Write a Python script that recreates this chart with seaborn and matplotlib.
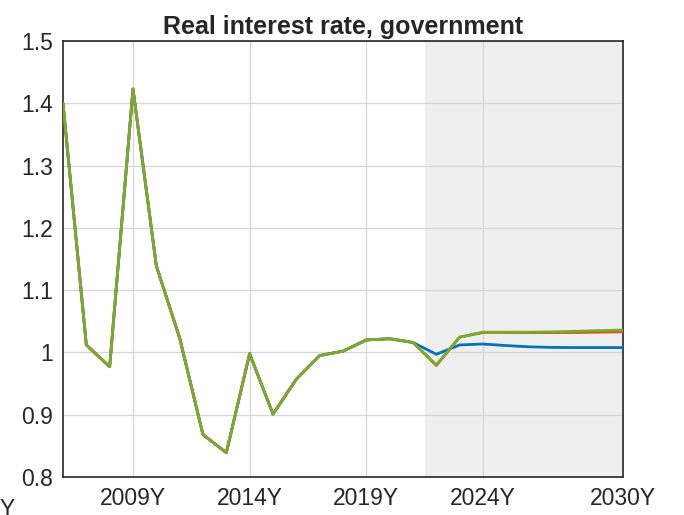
import numpy as np
import pandas as pd
import matplotlib
matplotlib.use("Agg")
import matplotlib.pyplot as plt
import seaborn as sns

years = list(range(2006, 2031))
common = [1.400, 1.012, 0.977, 1.423, 1.139, 1.023, 0.868, 0.839, 0.998,
          0.901, 0.957, 0.995, 1.002, 1.020, 1.022, 1.016]
blue_tail = [0.997, 1.012, 1.0135, 1.011, 1.009, 1.008, 1.0078, 1.0078, 1.0078]
orange_tail = [0.979, 1.0245, 1.032, 1.032, 1.0318, 1.0318, 1.032, 1.0325, 1.033]
green_tail = [0.980, 1.0245, 1.0325, 1.0325, 1.0325, 1.033, 1.034, 1.035, 1.036]

series = {
    "baseline": common + blue_tail,
    "scenario 1": common + orange_tail,
    "scenario 2": common + green_tail,
}
colors = ["#0072BD", "#D95319", "#77AC30"]

df = pd.DataFrame([(y, name, v) for name, vals in series.items()
                   for y, v in zip(years, vals)],
                  columns=["year", "series", "value"])

sns.set_style("white")
plt.rcParams["font.family"] = ["Liberation Sans", "DejaVu Sans"]

fig = plt.figure(figsize=(6.84, 5.15), dpi=100)
ax = fig.add_axes([0.0921, 0.0738, 0.8187, 0.8466])

ax.axvspan(2021.5, 2030, color="#efefef", zorder=0, lw=0)

sns.lineplot(data=df, x="year", y="value", hue="series", palette=colors,
             linewidth=2, legend=False, ax=ax, zorder=3)

ax.set_xlim(2006, 2030)
ax.set_ylim(0.8, 1.5)
ax.set_xticks([2009, 2014, 2019, 2024, 2030])
ax.set_xticklabels(["2009Y", "2014Y", "2019Y", "2024Y", "2030Y"])
yt = [0.8, 0.9, 1.0, 1.1, 1.2, 1.3, 1.4, 1.5]
ax.set_yticks(yt)
ax.set_yticklabels([f"{v:g}" for v in yt])
ax.set_xlabel("")
ax.set_ylabel("")
ax.grid(True, color="#d6d6d6", linewidth=0.9, zorder=1)
ax.set_axisbelow(True)
ax.tick_params(direction="in", length=5, width=1.2, labelsize=16.5,
               colors="#262626", pad=7, top=False, right=False)
for s in ax.spines.values():
    s.set_visible(True)
    s.set_color("#262626")
    s.set_linewidth(1.2)

ax.set_title("Real interest rate, government", fontsize=18,
             fontweight="bold", pad=5)
fig.text(0.0, -0.012, "Y", fontsize=16.5, color="#262626", ha="left", va="bottom")

fig.savefig("out.png", dpi=100)
